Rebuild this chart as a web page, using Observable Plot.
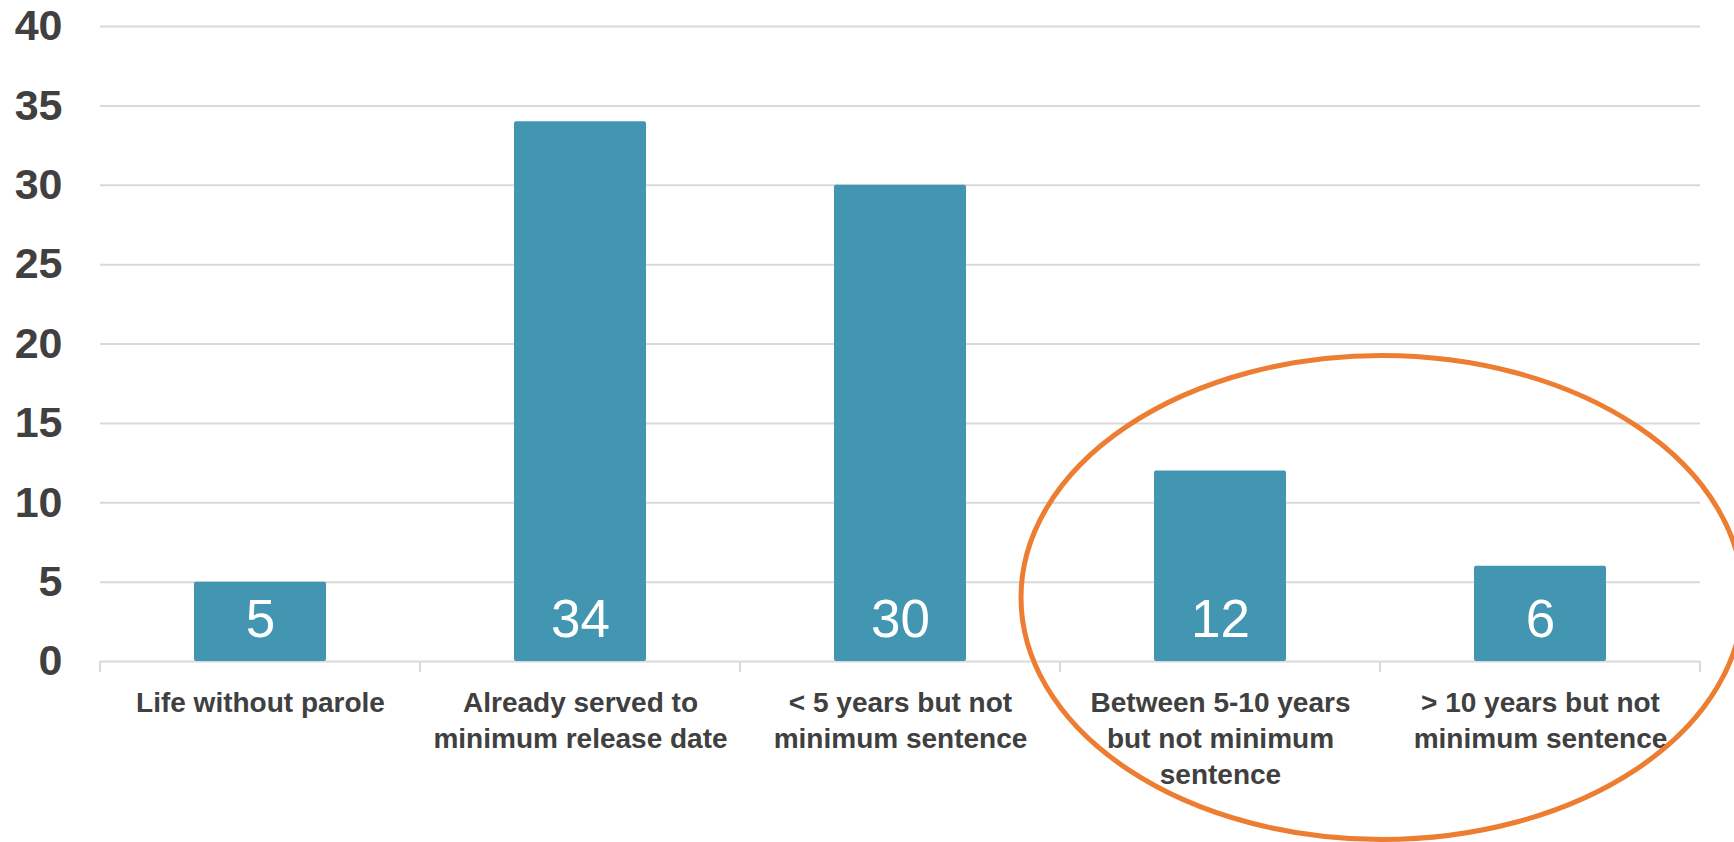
<!DOCTYPE html>
<html>
<head>
<meta charset="utf-8">
<script src="https://cdn.jsdelivr.net/npm/d3@7"></script>
<script src="https://cdn.jsdelivr.net/npm/@observablehq/plot@0.6"></script>
<style>
  html, body { margin: 0; padding: 0; background: #ffffff; }
  #chart { width: 1734px; height: 842px; overflow: hidden; }
  svg { display: block; }
</style>
</head>
<body>
<div id="chart"></div>
<script>
// Data
const categories = [
  "Life without parole",
  "Already served to minimum release date",
  "< 5 years but not minimum sentence",
  "Between 5-10 years but not minimum sentence",
  "> 10 years but not minimum sentence"
];
const categoryLabels = [
  "Life without parole",
  "Already served to\nminimum release date",
  "< 5 years but not\nminimum sentence",
  "Between 5-10 years\nbut not minimum\nsentence",
  "> 10 years but not\nminimum sentence"
];
const counts = [5, 34, 30, 12, 6];
const yTicks = [0, 5, 10, 15, 20, 25, 30, 35, 40];
const highlighted = [categories[3], categories[4]];

const rows = categories.map((c, i) => ({category: c, label: categoryLabels[i], value: counts[i]}));

const W = 1734, H = 842;
const barColor = "#4296b1";
const gridColor = "#d9d9d9";
const textColor = "#404040";
const sans = "'Liberation Sans', Arial, Helvetica, sans-serif";

const plot = Plot.plot({
  width: W,
  height: H,
  marginLeft: 100,
  marginRight: 34,
  marginTop: 26,
  marginBottom: 181,
  style: {background: "#ffffff", fontFamily: sans, overflow: "visible"},
  x: {domain: categories, paddingInner: 0.587, paddingOuter: 0.2935, axis: null},
  y: {domain: [0, 40], axis: null},
  marks: [
    Plot.gridY(yTicks, {stroke: gridColor, strokeOpacity: 1, strokeWidth: 2}),
    Plot.axisY(yTicks, {
      tickSize: 0, tickPadding: 38, label: null,
      fontSize: 43, fontWeight: "bold", fill: textColor, fontFamily: sans
    }),
    Plot.barY(rows, {x: "category", y: "value", fill: barColor, rx: 2}),
    Plot.text(rows, {
      x: "category", y: () => 0, text: d => String(d.value),
      dy: -25, lineAnchor: "bottom", fill: "#ffffff",
      fontSize: 53, fontFamily: sans
    }),
    Plot.text(rows, {
      x: "category", frameAnchor: "bottom", text: "label",
      dy: 25, lineAnchor: "top", lineHeight: 36 / 28,
      fill: textColor, fontSize: 28, fontWeight: 600, fontFamily: sans
    })
  ]
});

// Category boundary ticks and the highlight ellipse, placed through Plot's scales
const xs = plot.scale("x");
const ys = plot.scale("y");
const gap = xs.step - xs.bandwidth;
const bounds = categories.map(c => xs.apply(c) - gap / 2);
bounds.push(xs.apply(categories[categories.length - 1]) + xs.bandwidth + gap / 2);
const y0 = ys.apply(0);
const svg = d3.select(plot);
const tg = svg.append("g").attr("stroke", gridColor).attr("stroke-width", 2);
bounds.forEach(b => {
  tg.append("line").attr("x1", b).attr("x2", b).attr("y1", y0).attr("y2", y0 + 11);
});

const hiLeft = xs.apply(highlighted[0]);
const hiRight = xs.apply(highlighted[1]) + xs.bandwidth;
const cx = (hiLeft + hiRight) / 2 + 2;
const cy = ys.apply(4);
svg.append("ellipse")
  .attr("cx", cx).attr("cy", cy)
  .attr("rx", 361).attr("ry", 242)
  .attr("fill", "none")
  .attr("stroke", "#ed7d31")
  .attr("stroke-width", 5);

document.getElementById("chart").appendChild(plot);
</script>
</body>
</html>
